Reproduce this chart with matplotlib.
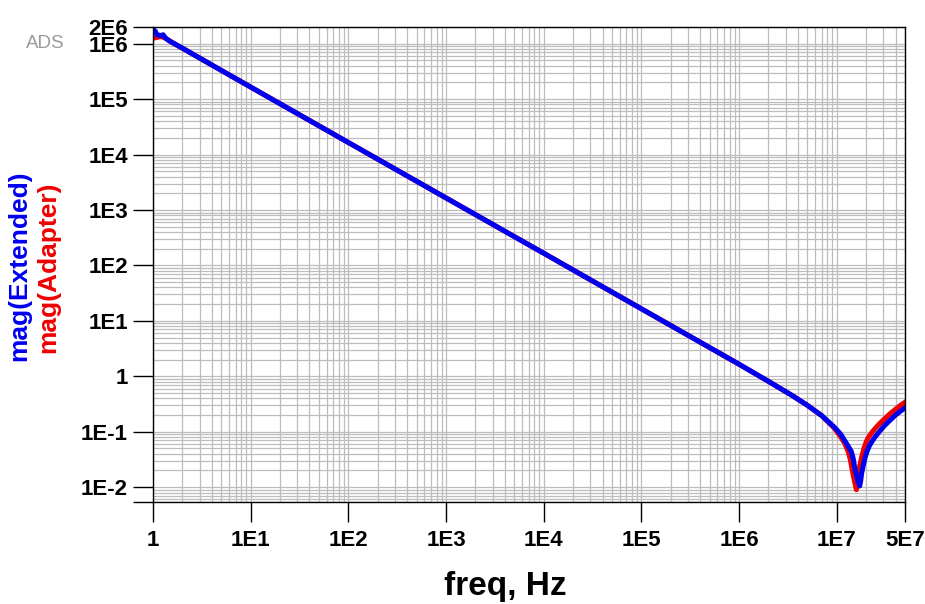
import matplotlib
matplotlib.use("Agg")
import matplotlib.pyplot as plt
from matplotlib.ticker import LogLocator, NullFormatter

# values (freq in Hz, magnitude)
freq_extended = [1, 1.05, 1.1, 1.2, 1.27, 1.35, 1.5, 2, 5, 10, 100, 1e3, 1e4, 1e5, 1e6,
                 2e6, 3.5e6, 5e6, 7e6, 9.5e6, 1.1e7, 1.2e7, 1.3e7, 1.41e7, 1.48e7,
                 1.53e7, 1.6e7, 1.66e7, 1.72e7, 1.76e7, 1.8e7, 1.86e7, 1.95e7, 2.05e7,
                 2.15e7, 2.3e7, 2.5e7, 2.8e7, 3.1e7, 3.5e7, 4e7, 4.5e7, 5e7]
mag_extended = [1.8e6, 1.7e6, 1.45e6, 1.4e6, 1.45e6, 1.25e6, 1.1e6, 8.3e5, 3.3e5, 1.65e5,
                1.65e4, 1.65e3, 166, 16.5, 1.65,
                0.81, 0.45, 0.30, 0.196, 0.12, 0.09, 0.07, 0.056, 0.044, 0.032,
                0.022, 0.016, 0.012, 0.0105, 0.013, 0.018, 0.0235, 0.034, 0.045,
                0.055, 0.067, 0.083, 0.106, 0.13, 0.16, 0.2, 0.235, 0.27]

freq_adapter = [1, 1.1, 1.2, 1.35, 1.5, 2, 5, 10, 100, 1e3, 1e4, 1e5, 1e6,
                2e6, 3.5e6, 5e6, 7e6, 9.5e6, 1.1e7, 1.2e7, 1.31e7, 1.38e7, 1.43e7,
                1.48e7, 1.53e7, 1.59e7, 1.63e7, 1.67e7, 1.72e7, 1.8e7, 1.9e7, 2.0e7,
                2.1e7, 2.3e7, 2.5e7, 2.8e7, 3.1e7, 3.5e7, 4e7, 4.5e7, 5e7]
mag_adapter = [1.25e6, 1.3e6, 1.35e6, 1.25e6, 1.1e6, 8.3e5, 3.3e5, 1.65e5,
               1.65e4, 1.65e3, 166, 16.5, 1.65,
               0.81, 0.45, 0.30, 0.195, 0.115, 0.08, 0.063, 0.044, 0.031, 0.022,
               0.016, 0.012, 0.009, 0.012, 0.017, 0.024, 0.035, 0.05, 0.065,
               0.078, 0.098, 0.117, 0.145, 0.172, 0.21, 0.255, 0.30, 0.34]

x_ticks = [1, 1e1, 1e2, 1e3, 1e4, 1e5, 1e6, 1e7, 5e7]
x_labels = ['1', '1E1', '1E2', '1E3', '1E4', '1E5', '1E6', '1E7', '5E7']
y_ticks = [5.4e-3, 1e-2, 1e-1, 1, 1e1, 1e2, 1e3, 1e4, 1e5, 1e6, 2e6]
y_labels = ['', '1E-2', '1E-1', '1', '1E1', '1E2', '1E3', '1E4', '1E5', '1E6', '2E6']

plt.rcParams['font.family'] = ['Liberation Sans', 'DejaVu Sans']

fig = plt.figure(figsize=(9.25, 6.04), dpi=100)
ax = fig.add_axes([153 / 925, 102 / 604, 752 / 925, 475 / 604])

ax.plot(freq_adapter, mag_adapter, color='#f00000', linewidth=3.6, solid_joinstyle='round')
ax.plot(freq_extended, mag_extended, color='#0000f0', linewidth=3.6, solid_joinstyle='round')

ax.set_xscale('log')
ax.set_yscale('log')
ax.set_xlim(1, 5e7)
ax.set_ylim(5.4e-3, 2e6)

ax.set_xticks(x_ticks)
ax.set_xticklabels(x_labels)
ax.set_yticks(y_ticks)
ax.set_yticklabels(y_labels)
ax.xaxis.set_minor_locator(LogLocator(base=10, subs=range(2, 10), numticks=100))
ax.yaxis.set_minor_locator(LogLocator(base=10, subs=range(2, 10), numticks=100))
ax.xaxis.set_minor_formatter(NullFormatter())
ax.yaxis.set_minor_formatter(NullFormatter())

ax.tick_params(which='major', length=14.5, width=1.0, direction='out', color='black')
ax.tick_params(axis='y', which='major', pad=3.5)
ax.tick_params(axis='x', which='major', pad=6)
ax.tick_params(which='minor', length=0)
for lbl in ax.get_xticklabels() + ax.get_yticklabels():
    lbl.set_fontsize(16)
    lbl.set_fontweight('bold')

ax.grid(True, which='both', color='#bdbdbd', linewidth=0.9)
ax.set_axisbelow(True)
for sp in ax.spines.values():
    sp.set_color('black')
    sp.set_linewidth(1.0)

fig.text(505 / 925, 1 - 586 / 604, 'freq, Hz', fontsize=24, fontweight='bold',
         ha='center', va='center')
fig.text(19 / 925, 1 - 266 / 604, 'mag(Extended)', fontsize=19, fontweight='bold',
         color='#0000f0', rotation=90, ha='center', va='center')
fig.text(48 / 925, 1 - 267 / 604, 'mag(Adapter)', fontsize=19, fontweight='bold',
         color='#f00000', rotation=90, ha='center', va='center')
fig.text(45 / 925, 1 - 43 / 604, 'ADS', fontsize=13.5, color='#9a9a9a',
         ha='center', va='center')

fig.savefig('out.png', dpi=100)
